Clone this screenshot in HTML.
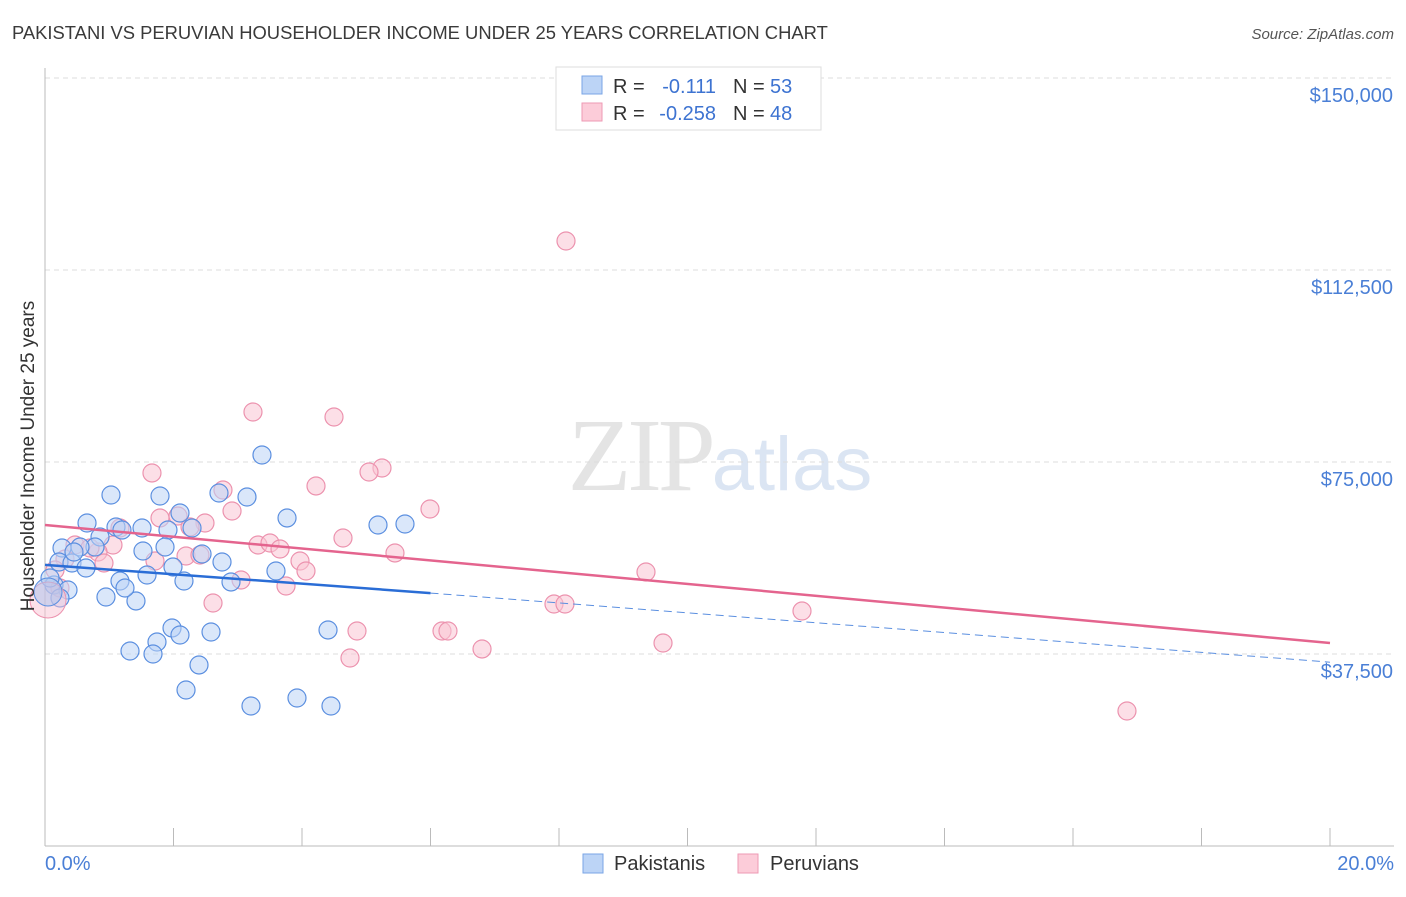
<!DOCTYPE html>
<html><head><meta charset="utf-8"><style>
body{margin:0;background:#fff;font-family:"Liberation Sans",sans-serif}
</style></head><body>
<svg id="chart" width="1406" height="892" xmlns="http://www.w3.org/2000/svg" font-family="Liberation Sans, sans-serif">
<text x="12" y="39" font-size="18.4" fill="#3a3a3a">PAKISTANI VS PERUVIAN HOUSEHOLDER INCOME UNDER 25 YEARS CORRELATION CHART</text>
<text x="1394" y="39" font-size="15" fill="#555" text-anchor="end" font-style="italic">Source: ZipAtlas.com</text>
<text x="720" y="490" font-size="104" fill="#e4e4e4" text-anchor="middle" font-family="Liberation Serif, serif" letter-spacing="-4">ZIP<tspan fill="#dbe5f3" font-family="Liberation Sans, sans-serif" font-size="76" letter-spacing="0">atlas</tspan></text>
<g id="grid"></g><g id="axes"></g><g id="pts"></g><g id="lines"></g>
<text transform="translate(34,456) rotate(-90)" font-size="19" fill="#333" text-anchor="middle">Householder Income Under 25 years</text>
<text x="45" y="870" font-size="20" fill="#4a7fd6">0.0%</text>
<text x="1394" y="870" font-size="20" fill="#4a7fd6" text-anchor="end">20.0%</text>
<g>
<rect x="556" y="67" width="265" height="63" fill="#fff" stroke="#ddd"/>
<rect x="582" y="76" width="20" height="18" fill="#bcd4f6" stroke="#7aa5e6"/>
<rect x="582" y="103" width="20" height="18" fill="#fcccd9" stroke="#ee9ab4"/>
<text x="613" y="93" font-size="20" fill="#333">R =</text><text x="716" y="93" font-size="20" fill="#3d73d1" text-anchor="end">-0.111</text>
<text x="733" y="93" font-size="20" fill="#333">N =</text><text x="770" y="93" font-size="20" fill="#3d73d1">53</text>
<text x="613" y="120" font-size="20" fill="#333">R =</text><text x="716" y="120" font-size="20" fill="#3d73d1" text-anchor="end">-0.258</text>
<text x="733" y="120" font-size="20" fill="#333">N =</text><text x="770" y="120" font-size="20" fill="#3d73d1">48</text>
</g>
<g>
<rect x="583" y="854" width="20" height="19" fill="#bcd4f6" stroke="#7aa5e6"/>
<text x="614" y="870" font-size="20" fill="#333">Pakistanis</text>
<rect x="738" y="854" width="20" height="19" fill="#fcccd9" stroke="#ee9ab4"/>
<text x="770" y="870" font-size="20" fill="#333">Peruvians</text>
</g>
</svg>
<script>
const yTicks=[37500,75000,112500,150000];
const yTickLabels=["$37,500","$75,000","$112,500","$150,000"];
const bluePx=[[262,455],[111,495],[160,496],[219,493],[247,497],[287,518],[378,525],[405,524],[87,523],[116,527],[142,528],[168,530],[192,528],[100,537],[62,548],[95,547],[80,547],[165,547],[143,551],[222,562],[202,554],[59,562],[72,563],[86,568],[147,575],[276,571],[120,581],[184,581],[231,582],[54,585],[68,590],[106,597],[136,601],[173,567],[50,578],[172,628],[180,635],[211,632],[328,630],[157,642],[130,651],[153,654],[199,665],[186,690],[251,706],[297,698],[331,706],[125,588],[74,552],[180,513],[122,530],[60,598]];
const pinkPx=[[566,241],[253,412],[334,417],[152,473],[382,468],[369,472],[316,486],[223,490],[430,509],[232,511],[205,523],[160,518],[178,516],[120,528],[343,538],[258,545],[270,543],[395,553],[300,561],[113,545],[98,552],[75,545],[65,559],[104,563],[646,572],[306,571],[286,586],[241,580],[155,561],[186,556],[213,603],[554,604],[565,604],[802,611],[357,631],[442,631],[448,631],[482,649],[663,643],[350,658],[1127,711],[190,527],[90,548],[55,570],[280,549],[200,555],[60,588]];
const blueX=bluePx.map(p=>+((p[0]-45)/64.25).toFixed(3)), blueY=bluePx.map(p=>Math.round(37500+(654-p[1])*37500/192));
const pinkX=pinkPx.map(p=>+((p[0]-45)/64.25).toFixed(3)), pinkY=pinkPx.map(p=>Math.round(37500+(654-p[1])*37500/192));
const blueTrend=[[0,54900],[6,49400],[20,35900]];
const pinkTrend=[[0,62700],[20,39650]];
const X=v=>45+v*64.25, Y=v=>654-(v-37500)*192/37500;
const NS="http://www.w3.org/2000/svg";
function mk(t,a,parent){const e=document.createElementNS(NS,t);for(const k in a)e.setAttribute(k,a[k]);document.getElementById(parent).appendChild(e);return e;}
yTicks.forEach((v,i)=>{
 const l=mk('line',{x1:45,x2:1394,y1:Y(v),y2:Y(v),stroke:'#ddd','stroke-dasharray':'5,4'},'grid');
 
 
 const t=mk('text',{x:1393,y:Y(v)+24,'font-size':20,fill:'#4a7fd6','text-anchor':'end'},'grid');
 
 
 t.textContent=yTickLabels[i];
});
const ax=mk('line',{x1:45,x2:45,y1:68,y2:846,stroke:'#bbb'},'axes');


const bx=mk('line',{x1:45,x2:1394,y1:846,y2:846,stroke:'#bbb'},'axes');


for(let i=1;i<=10;i++){const t=mk('line',{x1:X(2*i),x2:X(2*i),y1:828,y2:846,stroke:'#bbb'},'axes');
 
 }
function dots(xs,ys,fill,stroke,name){xs.forEach((x,i)=>{const c=mk('circle',{cx:X(x),cy:Y(ys[i]),r:9,fill:fill,'fill-opacity':0.55,stroke:stroke,'stroke-width':1.2},'pts');
 
 });}
dots(pinkX,pinkY,'#f9c4d3','#ec92ae','peruvian-point');
dots(blueX,blueY,'#bcd4f6','#5b8fe0','pakistani-point');
const bb=mk('circle',{cx:48,cy:600,r:18,fill:'#f9c4d3','fill-opacity':0.5,stroke:'#ec92ae'},'pts');


const bb2=mk('circle',{cx:48,cy:592,r:14,fill:'#a8c2ee','fill-opacity':0.5,stroke:'#5b8fe0'},'pts');


const pl=mk('line',{x1:X(pinkTrend[0][0]),y1:Y(pinkTrend[0][1]),x2:X(pinkTrend[1][0]),y2:Y(pinkTrend[1][1]),stroke:'#e4648e','stroke-width':2.5},'lines');


const bl=mk('line',{x1:X(blueTrend[0][0]),y1:Y(blueTrend[0][1]),x2:X(blueTrend[1][0]),y2:Y(blueTrend[1][1]),stroke:'#2a6dd6','stroke-width':2.5},'lines');


const bd=mk('line',{x1:X(blueTrend[1][0]),y1:Y(blueTrend[1][1]),x2:X(blueTrend[2][0]),y2:Y(blueTrend[2][1]),stroke:'#5b8fe0','stroke-width':1,'stroke-dasharray':'8,5'},'lines');


</script>
</body></html>
